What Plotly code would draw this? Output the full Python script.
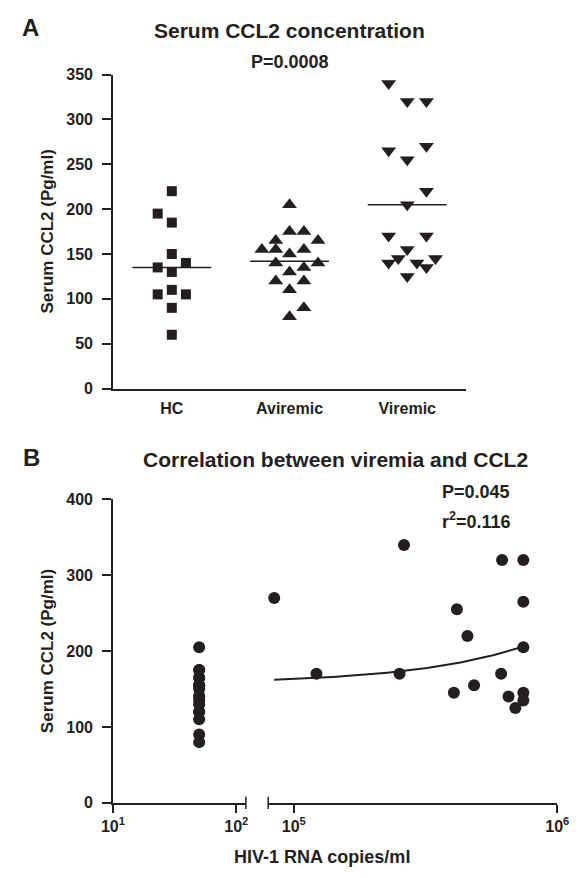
import numpy as np
import plotly.graph_objects as go

# the page body has an 8px default margin; the figure is sized to fit the
# 584x878 window exactly and positions are given in window pixels.
OFF = 8
W, H = 584 - OFF, 878 - OFF
INK = "#231f20"
FONT = "Liberation Sans"

# ---------------- data: panel A ----------------
categories = ["HC", "Aviremic", "Viremic"]

hc_values = [220, 195, 185, 150, 135, 140, 130, 110, 105, 105, 90, 60]
hc_jitter = [0, -0.12, 0, 0, -0.12, 0.12, 0, 0, -0.12, 0.12, 0, 0]

aviremic_values = [205, 175, 175, 165, 165, 155, 155, 155, 150, 140, 140,
                   135, 130, 120, 120, 110, 90, 80]
aviremic_jitter = [0, 0, 0.122, -0.117, 0.242, -0.235, -0.117, 0.122, 0,
                   -0.117, 0.242, 0.122, 0, -0.117, 0.122, 0, 0.122, 0]

viremic_values = [340, 320, 320, 270, 265, 255, 220, 205, 170, 170, 155,
                  145, 145, 140, 140, 135, 125]
viremic_jitter = [-0.158, 0, 0.163, 0.163, -0.158, 0, 0.163, 0, -0.158,
                  0.163, 0, -0.076, 0.24, -0.158, 0.082, 0.163, 0]

medians = [135, 142, 205]
yticks_a = [0, 50, 100, 150, 200, 250, 300, 350]

# ---------------- data: panel B ----------------
aviremic_copies = [50] * len(aviremic_values)
viremic_copies = [84300, 121900, 262000, 252000, 617000, 743000, 743000,
                  743000, 416000, 456000, 405000, 483000, 612000, 653000,
                  693000, 743000, 743000]
viremic_ccl2 = [270, 170, 340, 170, 320, 320, 265, 205, 255, 220, 145, 155,
                170, 140, 125, 145, 135]
fit_intercept = 156.5
fit_slope = 6.66e-5
yticks_b = [0, 100, 200, 300, 400]
xticks_left = [10, 100]
xticks_right = [1e5, 1e6]


def px_x(x):
    return (x - OFF) / W


def px_y(y):
    return 1 - (y - OFF) / H


def bold(s):
    return "<b>%s</b>" % s


def pow_label(v):
    return bold("10<sup>%d</sup>" % round(np.log10(v)))


fig = go.Figure()

marker_line = dict(width=0)
fig.add_trace(go.Scatter(
    x=[0 + j for j in hc_jitter], y=hc_values, mode="markers",
    marker=dict(symbol="square", size=10, color=INK, line=marker_line),
    xaxis="x", yaxis="y", showlegend=False, cliponaxis=False))
fig.add_trace(go.Scatter(
    x=[1 + j for j in aviremic_jitter], y=aviremic_values, mode="markers",
    marker=dict(symbol="triangle-up", size=13, color=INK, line=marker_line),
    xaxis="x", yaxis="y", showlegend=False, cliponaxis=False))
fig.add_trace(go.Scatter(
    x=[2 + j for j in viremic_jitter], y=viremic_values, mode="markers",
    marker=dict(symbol="triangle-down", size=13, color=INK, line=marker_line),
    xaxis="x", yaxis="y", showlegend=False, cliponaxis=False))

for i, m in enumerate(medians):
    fig.add_trace(go.Scatter(
        x=[i - 0.335, i + 0.335], y=[m, m], mode="lines",
        line=dict(color=INK, width=1.5), xaxis="x", yaxis="y",
        showlegend=False, hoverinfo="skip"))

fig.add_trace(go.Scatter(
    x=aviremic_copies, y=aviremic_values, mode="markers",
    marker=dict(symbol="circle", size=12, color=INK, line=marker_line),
    xaxis="x2", yaxis="y2", showlegend=False, cliponaxis=False))
fig.add_trace(go.Scatter(
    x=viremic_copies, y=viremic_ccl2, mode="markers",
    marker=dict(symbol="circle", size=12, color=INK, line=marker_line),
    xaxis="x3", yaxis="y2", showlegend=False, cliponaxis=False))

fit_x = np.logspace(np.log10(min(viremic_copies)), np.log10(max(viremic_copies)), 120)
fit_y = fit_intercept + fit_slope * fit_x
fig.add_trace(go.Scatter(
    x=fit_x, y=fit_y, mode="lines", line=dict(color=INK, width=2),
    xaxis="x3", yaxis="y2", showlegend=False, hoverinfo="skip"))

tickfont = dict(family=FONT, size=16, color=INK, weight="bold")
axis_common = dict(showline=True, linecolor=INK, linewidth=1.5,
                   showgrid=False, zeroline=False, tickfont=tickfont,
                   tickcolor=INK, tickwidth=1.5)

fig.update_layout(
    width=W, height=H, autosize=False,
    margin=dict(l=0, r=0, t=0, b=0),
    paper_bgcolor="white", plot_bgcolor="white",
    xaxis=dict(domain=[px_x(105), px_x(473.5)], range=[-0.5, 2.5],
               anchor="y", tickmode="array", tickvals=[0, 1, 2],
               ticktext=[bold(c) for c in categories], ticks="",
               ticklabelstandoff=4, **axis_common),
    yaxis=dict(domain=[px_y(388), px_y(67.7)], range=[0, 350], anchor="x",
               tickmode="array", tickvals=yticks_a,
               ticktext=[bold(v) for v in yticks_a], ticks="outside",
               ticklen=9, ticklabelstandoff=6, **axis_common),
    xaxis2=dict(domain=[px_x(105), px_x(243.7)], type="log",
                range=[1, 2.0777], anchor="y2", tickmode="array",
                tickvals=xticks_left,
                ticktext=[pow_label(v) for v in xticks_left],
                ticks="outside", ticklen=8, **axis_common),
    xaxis3=dict(domain=[px_x(267), px_x(568.7)], type="log",
                range=[4.903, 6], anchor="y2", tickmode="array",
                tickvals=xticks_right,
                ticktext=[pow_label(v) for v in xticks_right],
                ticks="outside", ticklen=8, **axis_common),
    yaxis2=dict(domain=[px_y(810.5), px_y(501)], range=[0, 400],
                anchor="x2", tickmode="array", tickvals=yticks_b,
                ticktext=[bold(v) for v in yticks_b],
                ticks="outside", ticklen=9, ticklabelstandoff=6,
                **axis_common),
)

for xr, xv in (("x2 domain", 1), ("x3 domain", 0)):
    fig.add_shape(type="line", xref=xr, x0=xv, x1=xv, yref="y2 domain",
                  y0=-0.02, y1=0.02, line=dict(color=INK, width=1.5))


def note(text, x, y, size, xanchor="center", angle=0):
    fig.add_annotation(text=bold(text), x=px_x(x), y=px_y(y), xref="paper",
                       yref="paper", xanchor=xanchor, yanchor="middle",
                       showarrow=False, textangle=angle,
                       font=dict(family=FONT, size=size, color=INK,
                                 weight="bold"))


note("A", 19, 20, 24)
note("Serum CCL2 concentration", 289, 22.5, 21)
note("P=0.0008", 289.3, 54.6, 18)
note("Serum CCL2 (Pg/ml)", 37, 228, 17, angle=-90)

note("B", 20, 458, 24)
note("Correlation between viremia and CCL2", 337.7, 460, 21)
note("P=0.045", 446, 493, 18, xanchor="left")
note("r<sup>2</sup>=0.116", 446, 523, 18, xanchor="left")
note("Serum CCL2 (Pg/ml)", 37, 656, 17, angle=-90)
note("HIV-1 RNA copies/ml", 323, 866, 18)

fig.write_html("out.html")
